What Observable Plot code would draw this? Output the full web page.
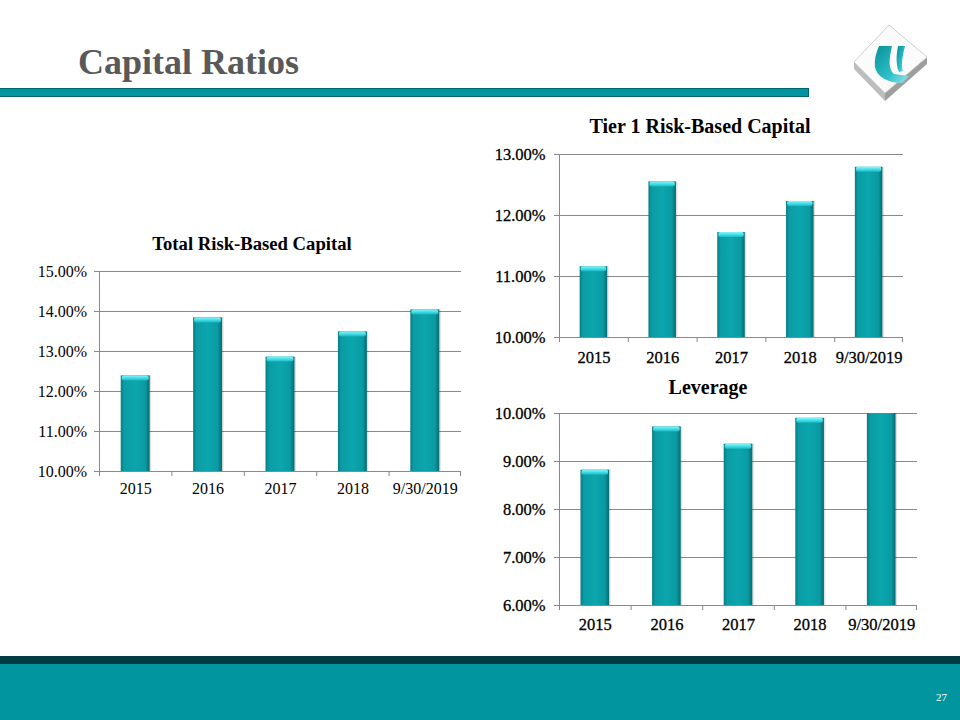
<!DOCTYPE html>
<html><head><meta charset="utf-8">
<script src="https://cdn.jsdelivr.net/npm/d3@7"></script>
<script src="https://cdn.jsdelivr.net/npm/@observablehq/plot@0.6"></script>
<style>
body{margin:0;background:#fff;}
#page{position:relative;width:960px;height:720px;overflow:hidden;font-family:"Liberation Serif","Times New Roman",serif;background:#fff;}
.ctitle{position:absolute;font-weight:bold;line-height:1;white-space:nowrap;transform:translateX(-50%);color:#000;}
.chart{position:absolute;}
#c2 text, #c3 text{stroke:#000;stroke-width:0.3px;}
</style></head><body>
<div id="page">
  <svg width="0" height="0" style="position:absolute">
    <defs>
      <linearGradient id="barGrad" x1="0" x2="1" y1="0" y2="0">
        <stop offset="0" stop-color="#0a7c83"/>
        <stop offset="0.12" stop-color="#0a9ca4"/>
        <stop offset="0.5" stop-color="#0ca6ae"/>
        <stop offset="0.85" stop-color="#0a9aa2"/>
        <stop offset="1" stop-color="#066a70"/>
      </linearGradient>
      <linearGradient id="capGrad" x1="0" x2="0" y1="0" y2="1">
        <stop offset="0" stop-color="#8af4f8"/>
        <stop offset="0.5" stop-color="#45dfe8"/>
        <stop offset="1" stop-color="#1bb8c1"/>
      </linearGradient>
      <linearGradient id="logoU" x1="0" x2="1" y1="0" y2="1">
        <stop offset="0" stop-color="#0a8f98"/>
        <stop offset="0.6" stop-color="#2bbfc8"/>
        <stop offset="1" stop-color="#9fe6ea"/>
      </linearGradient>
    </defs>
  </svg>

  <div style="position:absolute;left:78px;top:44px;font-size:36px;font-weight:bold;line-height:1;color:#595959;white-space:nowrap;">Capital Ratios</div>
  <div style="position:absolute;left:-1px;top:88px;width:808px;height:7px;background:#00959f;border:1px solid #00646c;"></div>

  <svg style="position:absolute;left:845px;top:15px" width="110" height="95">
    <polygon points="9,47 40,78 40,86 9,54" fill="#bdbdbd"/>
    <polygon points="40,78 82,42 82,49 40,86" fill="#9e9e9e"/>
    <polygon points="44,10 82,42 40,78 9,47" fill="#fbfbfb" stroke="#cfcfcf" stroke-width="1"/>
    <path d="M34,31 L47,31 C44,44 43,54 49,59 L64,61 L57,68 C43,68 32,62 30,52 C29,45 31,38 34,31 Z" fill="url(#logoU)"/>
    <path d="M53,31 L60,31 C57,43 56,51 58,56 L54,57 C51,50 51,41 53,31 Z" fill="url(#logoU)"/>
  </svg>

  <div class="ctitle" style="left:252px;top:235px;font-size:18.67px;">Total Risk-Based Capital</div>
  <div class="ctitle" style="left:700px;top:116px;font-size:20px;">Tier 1 Risk-Based Capital</div>
  <div class="ctitle" style="left:708px;top:377px;font-size:20px;">Leverage</div>

  <div id="c1" class="chart" style="left:0px;top:261px;width:476px;"></div>
  <div id="c2" class="chart" style="left:480px;top:144px;width:438px;"></div>
  <div id="c3" class="chart" style="left:480px;top:403px;width:452px;"></div>

  <div style="position:absolute;left:0;top:656px;width:960px;height:8px;background:#003b44;"></div>
  <div style="position:absolute;left:0;top:664px;width:960px;height:56px;background:#00959f;"></div>
  <div style="position:absolute;left:936px;top:692px;font-size:11px;line-height:1;color:#fff;">27</div>
</div>
<script>
const categories = ["2015", "2016", "2017", "2018", "9/30/2019"];
const totalRBC = [12.39, 13.84, 12.86, 13.49, 14.04];
const tier1RBC = [11.16, 12.55, 11.72, 12.23, 12.79];
const leverage = [8.82, 9.72, 9.36, 9.90, 10.10];
const totalTicks = [10, 11, 12, 13, 14, 15];
const tier1Ticks = [10, 11, 12, 13];
const leverageTicks = [6, 7, 8, 9, 10];

const grid = "#898989";

function barChart({values, ticks, width, height, ml, mr, mt, mb, fontSize, xPad, yPad}) {
  const data = categories.map((c, i) => ({cat: c, value: values[i]}));
  const y0 = ticks[0], yMax = ticks[ticks.length - 1];
  const step = (width - ml - mr) / categories.length;
  const side = step * 0.3;
  const last = categories[categories.length - 1];
  return Plot.plot({
    width, height,
    marginLeft: ml, marginRight: mr, marginTop: mt, marginBottom: mb,
    style: {fontFamily: "Liberation Serif, Times New Roman, serif", fontSize: fontSize + "px", color: "#000", background: "transparent", overflow: "visible"},
    x: {domain: categories, padding: 0, round: false, tickSize: 0, tickPadding: xPad, label: null},
    y: {domain: [y0, yMax], ticks, tickFormat: d => d.toFixed(2) + "%", tickSize: 0, tickPadding: yPad, label: null},
    marks: [
      Plot.ruleY(ticks, {stroke: grid, strokeWidth: 1, insetLeft: -5}),
      Plot.barY(categories, {x: d => d, y1: () => y0, y2: () => y0, insetBottom: -5, insetRight: step - 1, fill: grid}),
      Plot.barY([last], {x: d => d, y1: () => y0, y2: () => y0, insetBottom: -5, insetLeft: step - 1, fill: grid}),
      Plot.barY([categories[0]], {x: d => d, y1: () => y0, y2: () => yMax, insetRight: step - 1, fill: grid}),
      Plot.barY(data, {x: "cat", y1: () => y0, y2: "value", insetLeft: side + 1.5, insetRight: side - 1.5, fill: "rgba(0,0,0,0.12)", clip: true}),
      Plot.barY(data, {x: "cat", y1: () => y0, y2: "value", insetLeft: side, insetRight: side, fill: "url(#barGrad)", clip: true}),
      Plot.barY(data, {x: "cat", y1: "value", y2: "value", insetBottom: -5, insetLeft: side + 1, insetRight: side + 1, fill: "url(#capGrad)", rx: 2, clip: true})
    ]
  });
}

document.getElementById("c1").append(barChart({values: totalRBC, ticks: totalTicks, width: 476, height: 244, ml: 99, mr: 15, mt: 10, mb: 34, fontSize: 16, xPad: 11, yPad: 12.5}));
document.getElementById("c2").append(barChart({values: tier1RBC, ticks: tier1Ticks, width: 438, height: 227, ml: 79, mr: 15, mt: 10, mb: 34, fontSize: 16.5, xPad: 13.5, yPad: 14}));
document.getElementById("c3").append(barChart({values: leverage, ticks: leverageTicks, width: 452, height: 236, ml: 79, mr: 15, mt: 10, mb: 34, fontSize: 16.5, xPad: 12.5, yPad: 14}));
</script>
</body></html>
